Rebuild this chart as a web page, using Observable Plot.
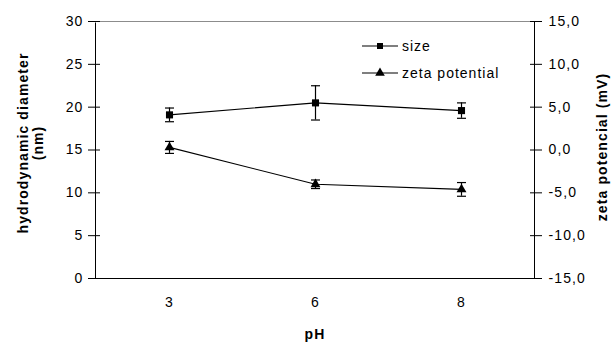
<!DOCTYPE html>
<html><head><meta charset="utf-8">
<script src="https://cdn.jsdelivr.net/npm/d3@7"></script>
<script src="https://cdn.jsdelivr.net/npm/@observablehq/plot@0.6"></script>
<style>
body{margin:0;background:#fff;font-family:"Liberation Sans",Arial,sans-serif}
#wrap{position:relative;width:613px;height:343px}
#wrap svg text{letter-spacing:1.1px}
#wrap svg text.ttl{letter-spacing:1.3px}
.leg{position:absolute;display:flex;align-items:center;font-size:14px;color:#000;line-height:1;letter-spacing:1px}
.leg svg{display:block;margin-right:3px}
</style></head><body><div id="wrap"></div>
<script>
const pH = ["3", "6", "8"];
const sizeNm = [19.1, 20.5, 19.6];
const sizeErr = [0.8, 2.0, 0.9];
const zetaMv = [0.3, -4.0, -4.6];
const zetaErr = [0.7, 0.5, 0.8];
const leftTicks = [0, 5, 10, 15, 20, 25, 30];
const zetaOffset = 15; // right axis -15..15 maps onto left 0..30
const seriesNames = ["size", "zeta potential"];
const leftTitle = ["hydrodynamic diameter", "(nm)"];
const rightTitle = "zeta potencial (mV)";
const xTitle = "pH";

const sizeData = pH.map((p, i) => ({pH: p, v: sizeNm[i], lo: sizeNm[i] - sizeErr[i], hi: sizeNm[i] + sizeErr[i]}));
const zetaData = pH.map((p, i) => ({pH: p, v: zetaMv[i] + zetaOffset, lo: zetaMv[i] - zetaErr[i] + zetaOffset, hi: zetaMv[i] + zetaErr[i] + zetaOffset}));
const fmtZeta = d => (d - zetaOffset).toFixed(1).replace(".", ",");

// horizontal cap symbol for error bars
const capSymbol = {draw(context) { context.moveTo(-4.5, 0); context.lineTo(4.5, 0); }};

const errMarks = (data) => [
  Plot.ruleX(data, {x: "pH", y1: "lo", y2: "hi", stroke: "#000", strokeWidth: 1.2}),
  Plot.dot(data, {x: "pH", y: "lo", symbol: capSymbol, stroke: "#000", strokeWidth: 1.2, fill: "none"}),
  Plot.dot(data, {x: "pH", y: "hi", symbol: capSymbol, stroke: "#000", strokeWidth: 1.2, fill: "none"})
];

const chart = Plot.plot({
  width: 613, height: 343,
  marginLeft: 95, marginRight: 79, marginTop: 21, marginBottom: 65,
  style: {fontFamily: '"Liberation Sans", Arial, sans-serif', fontSize: "14px", color: "#000", background: "#fff"},
  x: {type: "point", domain: pH, padding: 0.5},
  y: {domain: [0, 30]},
  marks: [
    Plot.frame({stroke: "#000"}),
    Plot.ruleY([30], {stroke: "#fff", strokeWidth: 2}),
    Plot.ruleY([30], {stroke: "#8c8c8c"}),
    Plot.axisY(leftTicks, {anchor: "left", tickSize: 12, dx: 5, fill: "none", label: null}),
    Plot.axisY(leftTicks, {anchor: "left", tickSize: 0, tickPadding: 12, fontSize: 14, label: null}),
    Plot.axisY(leftTicks, {anchor: "right", tickSize: 12, dx: -5, fill: "none", label: null}),
    Plot.axisY(leftTicks, {anchor: "right", tickSize: 0, tickPadding: 14, fontSize: 14, tickFormat: fmtZeta, label: null}),
    Plot.axisX({tickSize: 0, tickPadding: 19, fontSize: 14, label: null}),
    Plot.text([leftTitle[0]], {text: d => d, frameAnchor: "left", textAnchor: "middle", rotate: -90, dx: -71.5, dy: -7, fontWeight: "bold", fontSize: 14, className: "ttl"}),
    Plot.text([leftTitle[1]], {text: d => d, frameAnchor: "left", textAnchor: "middle", rotate: -90, dx: -56.5, dy: -7, fontWeight: "bold", fontSize: 14, className: "ttl"}),
    Plot.text([rightTitle], {text: d => d, frameAnchor: "right", textAnchor: "middle", rotate: -90, dx: 68.5, dy: -3, fontWeight: "bold", fontSize: 14}),
    Plot.text([xTitle], {text: d => d, frameAnchor: "bottom", dy: 60, fontWeight: "bold", fontSize: 14}),
    // size series
    Plot.line(sizeData, {x: "pH", y: "v", stroke: "#000", strokeWidth: 1.2}),
    ...errMarks(sizeData),
    Plot.dot(sizeData, {x: "pH", y: "v", symbol: "square", r: 4, fill: "#000", stroke: "none"}),
    // zeta series
    Plot.line(zetaData, {x: "pH", y: "v", stroke: "#000", strokeWidth: 1.2}),
    ...errMarks(zetaData),
    Plot.dot(zetaData, {x: "pH", y: "v", symbol: "triangle", r: 3.7, fill: "#000", stroke: "none"})
  ]
});
const wrap = document.getElementById("wrap");
wrap.appendChild(chart);

// legend
const legendItems = [
  {name: seriesNames[0], symbol: "square", top: 39},
  {name: seriesNames[1], symbol: "triangle", top: 66}
];
for (const it of legendItems) {
  const div = document.createElement("div");
  div.className = "leg";
  div.style.left = "361px";
  div.style.top = it.top + "px";
  const path = d3.symbol(it.symbol === "square" ? d3.symbolSquare : d3.symbolTriangle, it.symbol === "square" ? 36 : 40)();
  div.innerHTML = `<svg width="38" height="14"><line x1="1" x2="37" y1="7" y2="7" stroke="#000" stroke-width="1.2"/><path d="${path}" transform="translate(19,7)" fill="#000"/></svg><span>${it.name}</span>`;
  wrap.appendChild(div);
}
</script></body></html>
